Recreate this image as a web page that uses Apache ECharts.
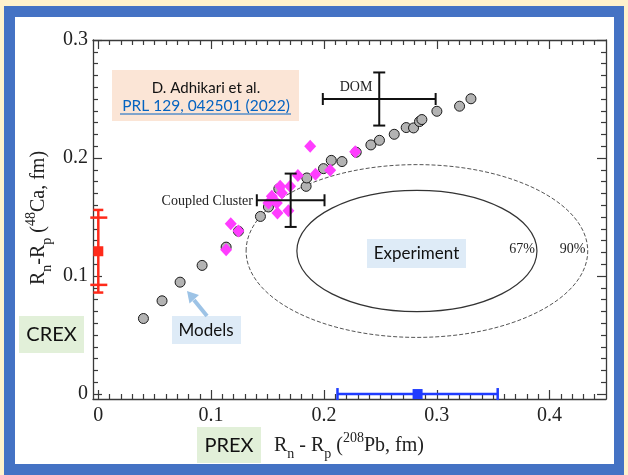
<!DOCTYPE html>
<html>
<head>
<meta charset="utf-8">
<script src="https://cdn.jsdelivr.net/npm/echarts@6/dist/echarts.min.js"></script>
<style>
html, body { margin: 0; padding: 0; background: #fff2cc; }
#grafico { width: 628px; height: 475px; }
</style>
</head>
<body>
<div id="grafico"></div>
<script>
// Modelos (círculos grises): Rn-Rp de 208Pb (x) y de 48Ca (y)
const modelosX = [0.040, 0.0565, 0.0725, 0.092, 0.1133, 0.1242, 0.1437, 0.1508, 0.160, 0.1842, 0.1848,
    0.1996, 0.2065, 0.216, 0.2286, 0.2416, 0.2492, 0.2623, 0.2729, 0.2794, 0.2847, 0.2868, 0.3001, 0.3202, 0.3303];
const modelosY = [0.064, 0.079, 0.0948, 0.109, 0.1245, 0.138, 0.1505, 0.1585, 0.174, 0.176, 0.1831,
    0.191, 0.198, 0.197, 0.2049, 0.2111, 0.215, 0.2201, 0.2258, 0.2255, 0.2309, 0.2326, 0.2396, 0.2439, 0.2502];

// Modelos (diamantes magenta)
const diamantesX = [0.1174, 0.1242, 0.1133, 0.1588, 0.1685, 0.1538, 0.1627, 0.1612, 0.170, 0.1769,
    0.1925, 0.1508, 0.1582, 0.2055, 0.1878, 0.2277];
const diamantesY = [0.1443, 0.1381, 0.1222, 0.1534, 0.1553, 0.1675, 0.1704, 0.176, 0.176, 0.1851,
    0.1863, 0.1619, 0.1619, 0.1896, 0.2099, 0.2054];

// Experimentos: CREX (eje y) y PREX (eje x)
const crexValor = 0.121;
const crexErrores = [0.0285, 0.035];     // interno, total
const prexValor = 0.283;
const prexError = 0.071;

// Contornos del experimento: [centro x, centro y, semieje x, semieje y, punteado]
const contornos = [
    [0.2824, 0.1212, 0.1064, 0.0514, 0],
    [0.2824, 0.1212, 0.1514, 0.0732, 1]
];

// Cálculos teóricos con barras de error: [x, y, error x, error y]
const teoriaDOM = [0.249, 0.250, 0.050, 0.0225];
const teoriaCC = [0.1705, 0.1642, 0.030, 0.0226];

// Marcas de los ejes
const ticksX = [0, 0.1, 0.2, 0.3, 0.4];
const ticksY = [0, 0.1, 0.2, 0.3];

const menoresX = [];
for (let i = 1; i < 45; i++) if (i % 10) menoresX.push(i / 100);
const menoresY = [];
for (let i = 1; i < 30; i++) if (i % 10) menoresY.push(i / 100);

const fuenteSerif = 'Liberation Serif';
const colorEje = '#3a3a3a';

function crearEje(tipo, posicion, valores, largo, conLinea, conEtiquetas) {
    const eje = {
        type: 'value',
        position: posicion,
        min: tipo === 'x' ? -0.0047 : -0.0042,
        max: tipo === 'x' ? 0.45 : 0.3,
        splitLine: { show: false },
        axisLine: { show: conLinea, onZero: false, lineStyle: { color: colorEje, width: 1.3 } },
        axisTick: { show: true, inside: true, length: largo, customValues: valores,
            lineStyle: { color: colorEje, width: 1.2 } },
        axisLabel: { show: conEtiquetas, customValues: valores, fontFamily: fuenteSerif, fontSize: 20,
            color: '#222', margin: tipo === 'x' ? 7 : 5 }
    };
    return eje;
}

const grafico = echarts.init(document.getElementById('grafico'));

function linea(a, b, estilo) {
    return { type: 'line', shape: { x1: a[0], y1: a[1], x2: b[0], y2: b[1] }, style: estilo };
}

// Cruz de error (DOM y Coupled Cluster)
function dibujarCruz(params, api) {
    const x = api.value(0), y = api.value(1), ex = api.value(2), ey = api.value(3);
    const L = api.coord([x - ex, y]), R = api.coord([x + ex, y]);
    const T = api.coord([x, y + ey]), B = api.coord([x, y - ey]);
    const e = { stroke: '#111', lineWidth: 2 };
    const c = 6;
    return {
        type: 'group',
        children: [
            linea(L, R, e), linea(T, B, e),
            linea([L[0], L[1] - c], [L[0], L[1] + c], e),
            linea([R[0], R[1] - c], [R[0], R[1] + c], e),
            linea([T[0] - c, T[1]], [T[0] + c, T[1]], e),
            linea([B[0] - c, B[1]], [B[0] + c, B[1]], e)
        ]
    };
}

const opciones = {
    backgroundColor: '#fff2cc',
    animation: false,
    grid: { left: 93, top: 40, width: 513, height: 359 },
    xAxis: [
        crearEje('x', 'bottom', ticksX, 9, true, true),
        crearEje('x', 'bottom', menoresX, 5, false, false),
        crearEje('x', 'top', ticksX, 9, true, false),
        crearEje('x', 'top', menoresX, 5, false, false)
    ],
    yAxis: [
        crearEje('y', 'left', ticksY, 9, true, true),
        crearEje('y', 'left', menoresY, 5, false, false),
        crearEje('y', 'right', ticksY, 9, true, false),
        crearEje('y', 'right', menoresY, 5, false, false)
    ],
    series: [
        {
            name: 'Contornos',
            type: 'custom',
            data: contornos,
            encode: { x: 0, y: 1 },
            z: 1,
            renderItem: (params, api) => {
                const c = api.coord([api.value(0), api.value(1)]);
                const s = api.size([api.value(2), api.value(3)]);
                return {
                    type: 'ellipse',
                    shape: { cx: c[0], cy: c[1], rx: s[0], ry: s[1] },
                    style: {
                        fill: null,
                        stroke: api.value(4) ? '#555' : '#333',
                        lineWidth: api.value(4) ? 1 : 1.2,
                        lineDash: api.value(4) ? [4, 2] : null
                    }
                };
            }
        },
        {
            name: 'Modelos',
            type: 'scatter',
            data: modelosX.map((x, i) => [x, modelosY[i]]),
            symbol: 'circle',
            symbolSize: 10,
            z: 3,
            itemStyle: { color: '#b3b3b3', borderColor: '#1a1a1a', borderWidth: 1, opacity: 1 }
        },
        {
            name: 'Modelos 2',
            type: 'scatter',
            data: diamantesX.map((x, i) => [x, diamantesY[i]]),
            symbol: 'diamond',
            symbolSize: [12, 13],
            z: 4,
            itemStyle: { color: '#ff3dff', opacity: 1 }
        },
        {
            name: 'Teoría',
            type: 'custom',
            data: [teoriaDOM, teoriaCC],
            encode: { x: 0, y: 1 },
            z: 5,
            renderItem: dibujarCruz
        },
        {
            name: 'CREX',
            type: 'custom',
            data: [[0, crexValor, crexErrores[0], crexErrores[1]]],
            encode: { x: 0, y: 1 },
            z: 6,
            renderItem: (params, api) => {
                const x = api.value(0), y = api.value(1);
                const e = { stroke: '#ff2a1a', lineWidth: 2.5 };
                const arr = api.coord([x, y + api.value(3)]), aba = api.coord([x, y - api.value(3)]);
                const arr2 = api.coord([x, y + api.value(2)]), aba2 = api.coord([x, y - api.value(2)]);
                return {
                    type: 'group',
                    children: [
                        linea(arr, aba, e),
                        linea([arr[0] - 5, arr[1]], [arr[0] + 5, arr[1]], e),
                        linea([aba[0] - 5, aba[1]], [aba[0] + 5, aba[1]], e),
                        linea([arr2[0] - 8, arr2[1]], [arr2[0] + 9, arr2[1]], e),
                        linea([aba2[0] - 8, aba2[1]], [aba2[0] + 9, aba2[1]], e)
                    ]
                };
            }
        },
        {
            name: 'PREX',
            type: 'custom',
            data: [[prexValor, 0, prexError]],
            encode: { x: 0, y: 1 },
            z: 6,
            renderItem: (params, api) => {
                const x = api.value(0), y = api.value(1);
                const e = { stroke: '#1f3cff', lineWidth: 2.5 };
                const izq = api.coord([x - api.value(2), y]), der = api.coord([x + api.value(2), y]);
                return {
                    type: 'group',
                    children: [
                        linea(izq, der, e),
                        linea([izq[0], izq[1] - 6], [izq[0], izq[1] + 6], e),
                        linea([der[0], der[1] - 6], [der[0], der[1] + 6], e)
                    ]
                };
            }
        },
        {
            name: 'Centrales',
            type: 'scatter',
            data: [
                { value: [0, crexValor], itemStyle: { color: '#ff2a1a' } },
                { value: [prexValor, 0], itemStyle: { color: '#1f3cff' } }
            ],
            symbol: 'rect',
            symbolSize: 10,
            z: 7,
            itemStyle: { opacity: 1 }
        }
    ],
    graphic: [
        // Marco azul y fondo blanco
        { type: 'rect', z: -10, silent: true, shape: { x: 4, y: 6, width: 620, height: 475 }, style: { fill: '#4472c4' } },
        { type: 'rect', z: -9, silent: true, shape: { x: 15, y: 17, width: 599, height: 447 }, style: { fill: '#ffffff' } },

        // Cita
        { type: 'rect', z: 10, shape: { x: 112, y: 70, width: 187, height: 51 }, style: { fill: '#fbe5d6' } },
        { type: 'text', z: 11, x: 206, y: 88, style: { text: 'D. Adhikari et al.', font: '15px Lato', fill: '#111', align: 'center', verticalAlign: 'middle' } },
        { type: 'text', z: 11, x: 206, y: 106, style: { text: 'PRL 129, 042501 (2022)', font: '15.5px Lato', fill: '#0563c1', align: 'center', verticalAlign: 'middle' } },
        { type: 'line', z: 11, shape: { x1: 120, y1: 114, x2: 291, y2: 114 }, style: { stroke: '#0563c1', lineWidth: 1 } },

        // Experiment
        { type: 'rect', z: 10, shape: { x: 367, y: 239, width: 99, height: 29 }, style: { fill: '#deebf7' } },
        { type: 'text', z: 11, x: 416.5, y: 254, style: { text: 'Experiment', font: '17px Lato', fill: '#111', align: 'center', verticalAlign: 'middle' } },

        // Models con flecha
        { type: 'rect', z: 10, shape: { x: 172, y: 316, width: 69, height: 28 }, style: { fill: '#deebf7' } },
        { type: 'text', z: 11, x: 206, y: 331, style: { text: 'Models', font: '17px Lato', fill: '#111', align: 'center', verticalAlign: 'middle' } },
        { type: 'line', z: 10, shape: { x1: 207, y1: 316, x2: 194, y2: 300 }, style: { stroke: '#9dc3e6', lineWidth: 4 } },
        { type: 'polygon', z: 10, shape: { points: [[187, 291], [199, 295], [189.5, 303.5]] }, style: { fill: '#9dc3e6' } },

        // CREX y PREX
        { type: 'rect', z: 10, shape: { x: 19, y: 316, width: 65, height: 37 }, style: { fill: '#e2f0d9' } },
        { type: 'text', z: 11, x: 51.5, y: 335, style: { text: 'CREX', font: '20px Lato', fill: '#111', align: 'center', verticalAlign: 'middle' } },
        { type: 'rect', z: 10, shape: { x: 197, y: 427, width: 64, height: 36 }, style: { fill: '#e2f0d9' } },
        { type: 'text', z: 11, x: 229, y: 446, style: { text: 'PREX', font: '20px Lato', fill: '#111', align: 'center', verticalAlign: 'middle' } },

        // Etiquetas serif
        { type: 'text', z: 11, x: 356, y: 87, style: { text: 'DOM', font: '14px "Liberation Serif"', fill: '#222', align: 'center', verticalAlign: 'middle' } },
        { type: 'text', z: 11, x: 253, y: 201, style: { text: 'Coupled Cluster', font: '14px "Liberation Serif"', fill: '#222', align: 'right', verticalAlign: 'middle' } },
        { type: 'text', z: 11, x: 522, y: 249, style: { text: '67%', font: '14px "Liberation Serif"', fill: '#222', align: 'center', verticalAlign: 'middle' } },
        { type: 'text', z: 11, x: 572.5, y: 249, style: { text: '90%', font: '14px "Liberation Serif"', fill: '#222', align: 'center', verticalAlign: 'middle' } },

        // Títulos de ejes
        {
            type: 'text', z: 11, x: 349, y: 446,
            style: {
                text: 'R{s|n} - R{s|p} ({s2|208}Pb, fm)',
                fontFamily: fuenteSerif, fontSize: 20, fill: '#222', align: 'center', verticalAlign: 'middle',
                lineHeight: 30,
                rich: {
                    s: { fontFamily: fuenteSerif, fontSize: 14, verticalAlign: 'bottom', lineHeight: 30, fill: '#222' },
                    s2: { fontFamily: fuenteSerif, fontSize: 14, verticalAlign: 'top', lineHeight: 30, fill: '#222' }
                }
            }
        },
        {
            type: 'text', z: 11, x: 39, y: 218, rotation: Math.PI / 2,
            style: {
                text: 'R{s|n}-R{s|p} ({s2|48}Ca, fm)',
                fontFamily: fuenteSerif, fontSize: 20, fill: '#222', align: 'center', verticalAlign: 'middle',
                lineHeight: 30,
                rich: {
                    s: { fontFamily: fuenteSerif, fontSize: 14, verticalAlign: 'bottom', lineHeight: 30, fill: '#222' },
                    s2: { fontFamily: fuenteSerif, fontSize: 14, verticalAlign: 'top', lineHeight: 30, fill: '#222' }
                }
            }
        }
    ]
};

grafico.setOption(opciones);
</script>
</body>
</html>
